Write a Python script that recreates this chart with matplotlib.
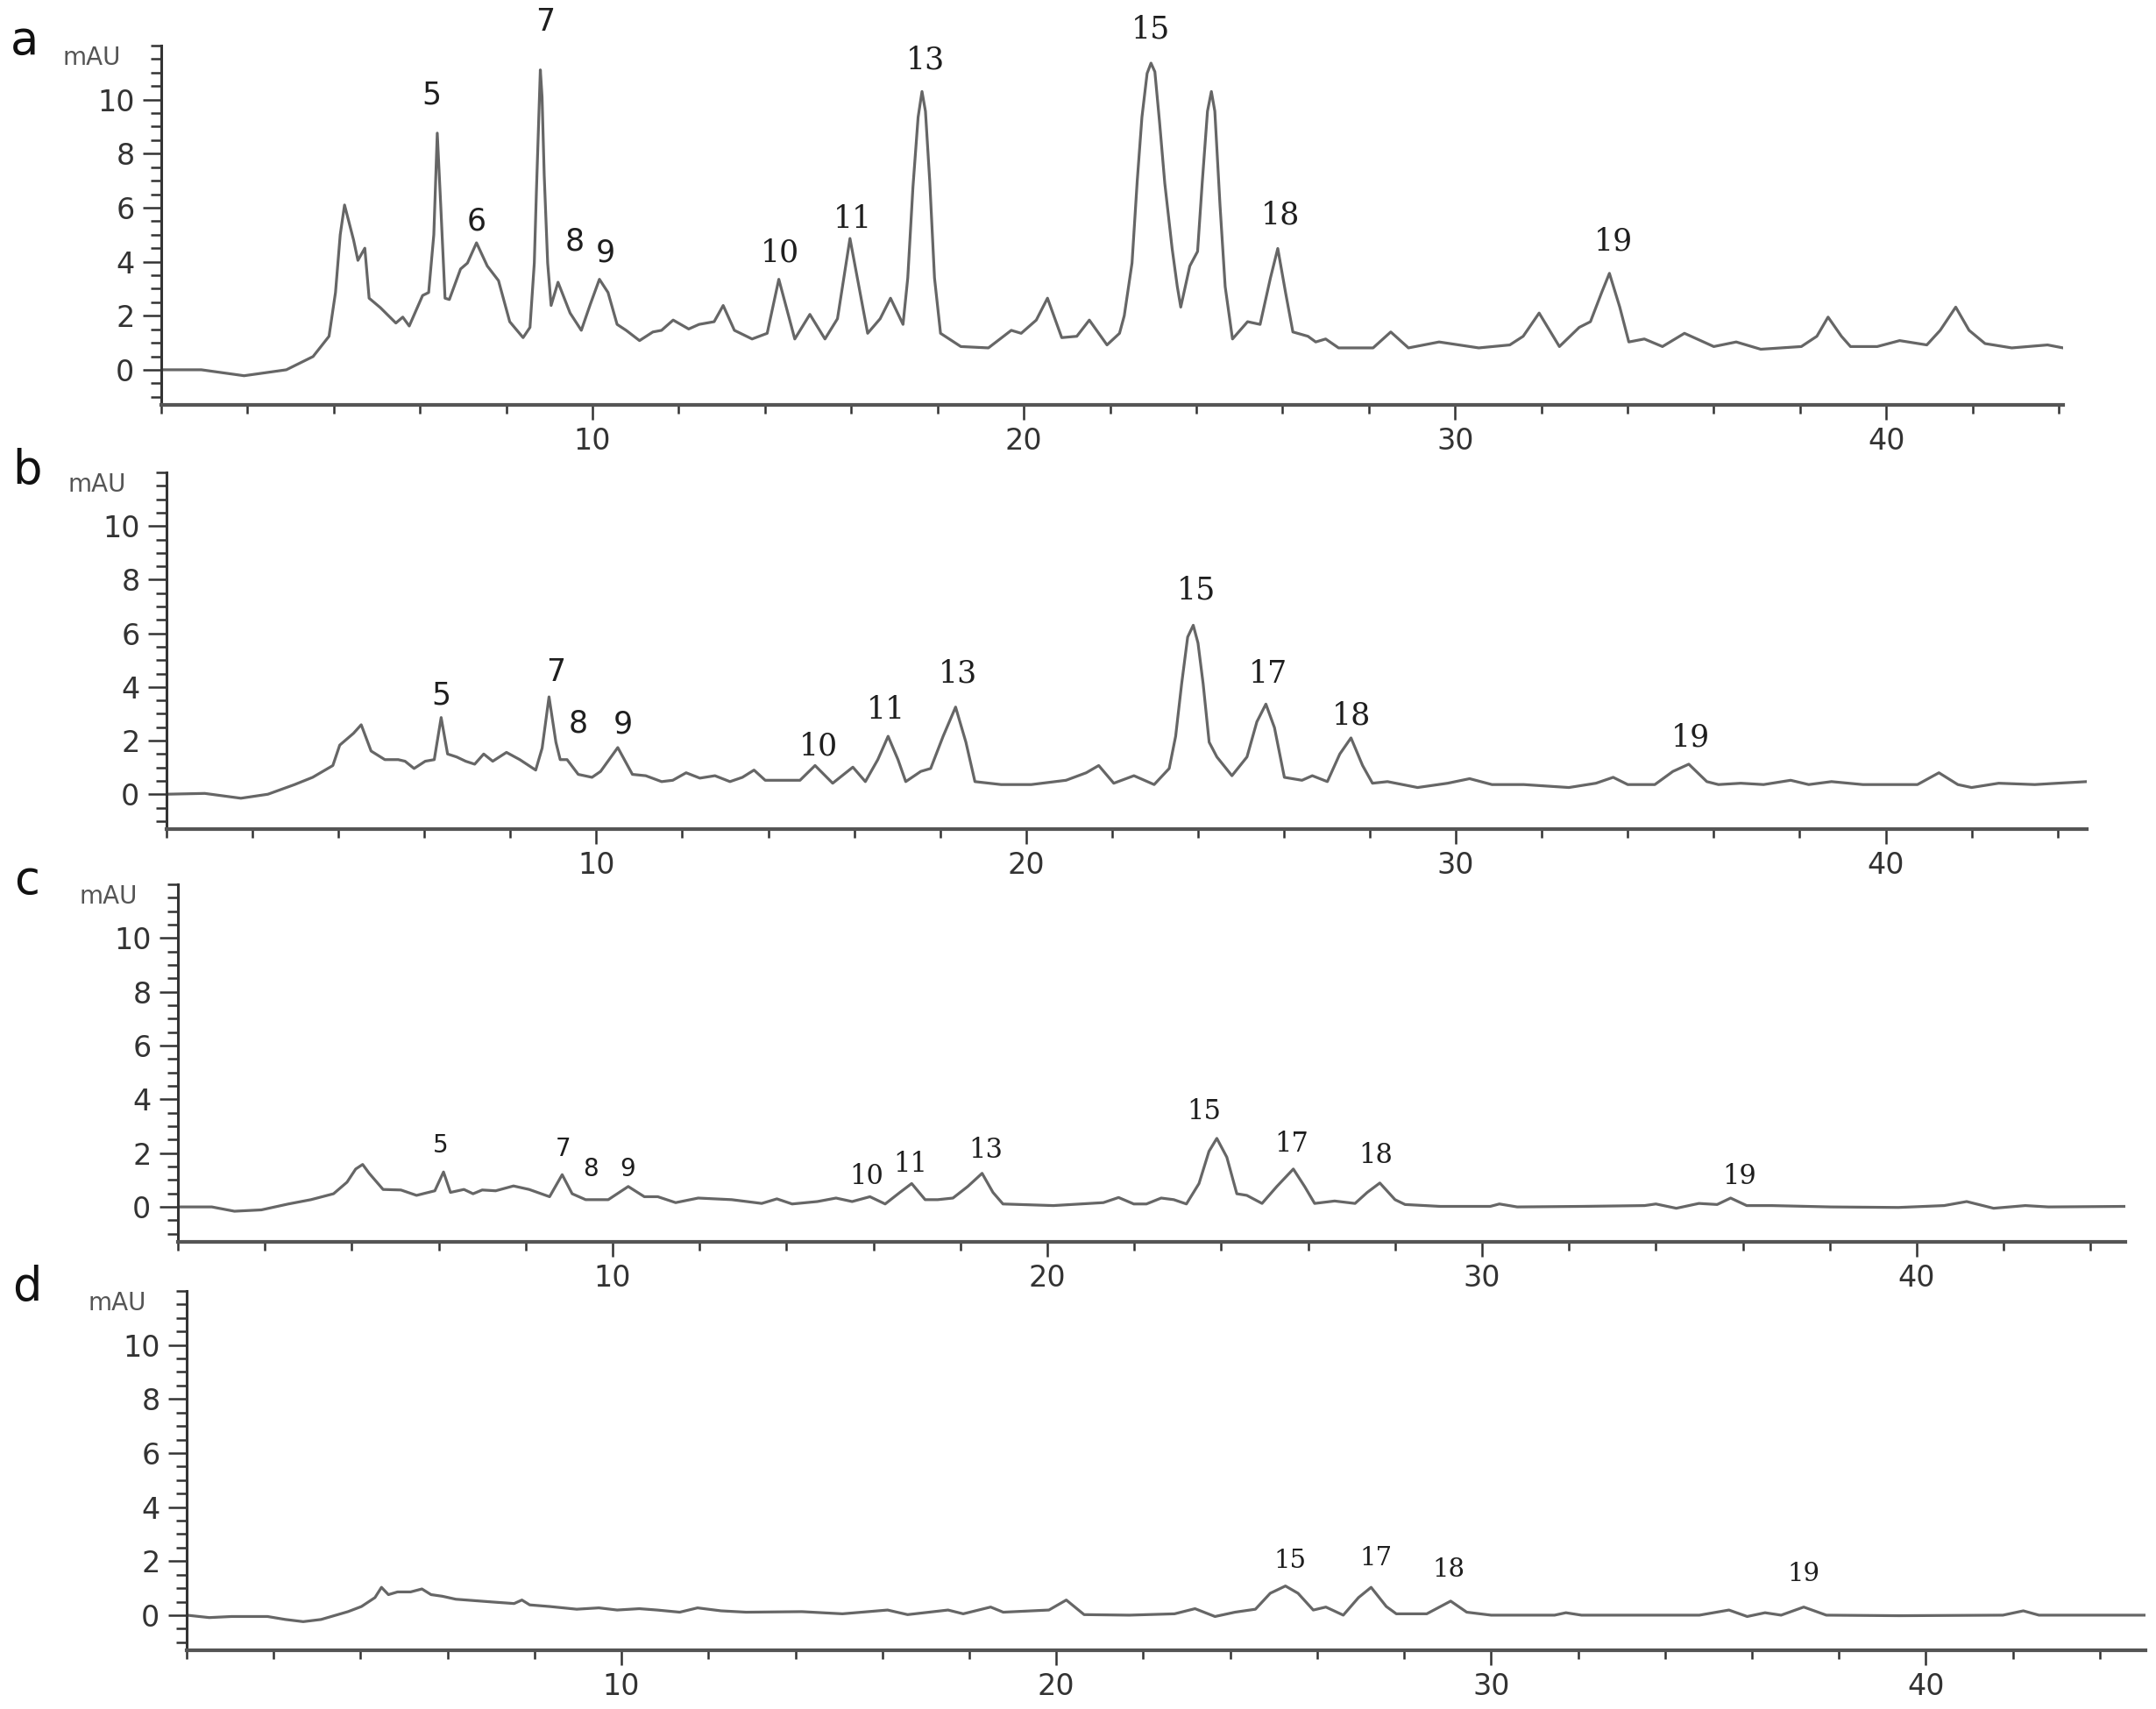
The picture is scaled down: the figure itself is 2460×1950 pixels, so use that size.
import matplotlib.pyplot as plt
from matplotlib.ticker import MultipleLocator

# chromatogram traces: (retention time [min], absorbance [mAU])
trace_a = [
    (0, 0), (0.93, 0), (1.92, -0.22), (2.9, 0), (3.52, 0.49), (3.89, 1.24), (4.04, 2.86), (4.15, 5.0),
    (4.25, 6.1), (4.46, 4.8), (4.56, 4.05), (4.72, 4.5), (4.82, 2.65), (5.08, 2.3), (5.44, 1.73),
    (5.6, 1.95), (5.75, 1.62), (6.06, 2.75), (6.2, 2.86), (6.32, 5.0), (6.4, 8.76), (6.48, 6.1),
    (6.58, 2.65), (6.68, 2.6), (6.94, 3.73), (7.1, 3.95), (7.31, 4.7), (7.56, 3.84), (7.82, 3.3),
    (8.08, 1.78), (8.39, 1.19), (8.55, 1.57), (8.65, 3.95), (8.7, 6.65), (8.76, 9.6), (8.79, 11.1),
    (8.83, 10.1), (8.88, 7.2), (8.96, 3.95), (9.04, 2.38), (9.2, 3.24), (9.48, 2.1), (9.74, 1.46),
    (9.95, 2.43), (10.16, 3.35), (10.36, 2.86), (10.57, 1.68), (10.78, 1.46), (11.09, 1.08),
    (11.4, 1.4), (11.6, 1.46), (11.87, 1.84), (12.23, 1.51), (12.47, 1.68), (12.82, 1.78),
    (13.03, 2.38), (13.29, 1.46), (13.7, 1.14), (14.05, 1.35), (14.32, 3.35), (14.69, 1.14),
    (15.04, 2.05), (15.39, 1.14), (15.68, 1.89), (15.97, 4.86), (16.38, 1.35), (16.67, 1.89),
    (16.91, 2.65), (17.2, 1.68), (17.31, 3.4), (17.43, 6.76), (17.55, 9.35), (17.64, 10.3),
    (17.72, 9.57), (17.82, 6.97), (17.93, 3.4), (18.07, 1.35), (18.54, 0.86), (19.18, 0.81),
    (19.71, 1.46), (19.94, 1.35), (20.29, 1.84), (20.55, 2.65), (20.88, 1.19), (21.23, 1.24),
    (21.52, 1.84), (21.93, 0.92), (22.22, 1.35), (22.33, 2.0), (22.51, 3.95), (22.63, 6.97),
    (22.74, 9.35), (22.86, 10.97), (22.95, 11.35), (23.04, 11.03), (23.15, 9.14), (23.27, 6.9),
    (23.44, 4.49), (23.56, 3.08), (23.64, 2.32), (23.85, 3.84), (24.03, 4.38), (24.14, 6.97),
    (24.26, 9.57), (24.35, 10.3), (24.43, 9.57), (24.55, 6.1), (24.67, 3.08), (24.84, 1.14),
    (25.19, 1.78), (25.48, 1.68), (25.72, 3.4), (25.89, 4.49), (26.07, 2.86), (26.24, 1.4),
    (26.59, 1.24), (26.77, 1.03), (27.0, 1.14), (27.3, 0.81), (28.1, 0.81), (28.51, 1.4),
    (28.92, 0.81), (29.63, 1.03), (30.55, 0.81), (31.27, 0.92), (31.58, 1.24), (31.95, 2.1),
    (32.42, 0.86), (32.88, 1.57), (33.14, 1.78), (33.4, 2.86), (33.58, 3.57), (33.82, 2.32),
    (34.03, 1.03), (34.39, 1.14), (34.81, 0.86), (35.32, 1.35), (36.0, 0.86), (36.52, 1.03),
    (37.09, 0.76), (38.03, 0.86), (38.39, 1.24), (38.65, 1.95), (38.96, 1.24), (39.17, 0.86),
    (39.79, 0.86), (40.31, 1.08), (40.94, 0.92), (41.25, 1.46), (41.61, 2.32), (41.92, 1.46),
    (42.29, 0.97), (42.91, 0.81), (43.74, 0.92), (44.1, 0.81),
]

trace_b = [
    (0, 0), (0.89, 0.03), (1.73, -0.15), (2.36, 0), (2.98, 0.36), (3.4, 0.63), (3.87, 1.07),
    (4.03, 1.83), (4.35, 2.27), (4.53, 2.59), (4.76, 1.61), (5.08, 1.29), (5.39, 1.29), (5.55, 1.23),
    (5.76, 0.96), (6.02, 1.23), (6.23, 1.29), (6.39, 2.86), (6.54, 1.5), (6.75, 1.39), (6.96, 1.23),
    (7.17, 1.12), (7.38, 1.5), (7.59, 1.23), (7.91, 1.56), (8.22, 1.29), (8.59, 0.9), (8.74, 1.72),
    (8.9, 3.63), (9.06, 1.94), (9.16, 1.29), (9.32, 1.29), (9.58, 0.74), (9.9, 0.63), (10.1, 0.85),
    (10.5, 1.74), (10.84, 0.74), (11.15, 0.69), (11.52, 0.47), (11.78, 0.52), (12.09, 0.8),
    (12.41, 0.6), (12.76, 0.69), (13.11, 0.47), (13.4, 0.63), (13.67, 0.9), (13.93, 0.52),
    (14.74, 0.52), (15.09, 1.07), (15.5, 0.41), (15.97, 1.01), (16.26, 0.47), (16.55, 1.29),
    (16.79, 2.16), (17.02, 1.29), (17.2, 0.47), (17.55, 0.85), (17.78, 0.96), (18.07, 2.16),
    (18.36, 3.25), (18.6, 1.94), (18.81, 0.47), (19.42, 0.36), (20.12, 0.36), (20.93, 0.52),
    (21.4, 0.8), (21.69, 1.07), (22.04, 0.41), (22.51, 0.69), (22.98, 0.36), (23.33, 0.96),
    (23.48, 2.16), (23.62, 4.12), (23.76, 5.86), (23.89, 6.3), (24.0, 5.64), (24.12, 4.12),
    (24.26, 1.94), (24.44, 1.39), (24.79, 0.69), (25.14, 1.39), (25.37, 2.7), (25.58, 3.36),
    (25.78, 2.48), (26.01, 0.63), (26.42, 0.52), (26.66, 0.69), (27.01, 0.47), (27.3, 1.5),
    (27.56, 2.1), (27.83, 1.07), (28.06, 0.41), (28.41, 0.47), (29.11, 0.25), (29.81, 0.41),
    (30.32, 0.58), (30.84, 0.36), (31.58, 0.36), (32.63, 0.25), (33.26, 0.41), (33.66, 0.63),
    (34.0, 0.36), (34.63, 0.36), (35.05, 0.85), (35.42, 1.12), (35.84, 0.47), (36.11, 0.36),
    (36.63, 0.41), (37.16, 0.36), (37.79, 0.52), (38.21, 0.36), (38.74, 0.47), (39.47, 0.36),
    (40.74, 0.36), (41.24, 0.8), (41.68, 0.36), (42.0, 0.25), (42.63, 0.41), (43.47, 0.36),
    (44.0, 0.41), (44.68, 0.47),
]

trace_c = [
    (0, 0), (0.78, 0), (1.3, -0.16), (1.92, -0.11), (2.54, 0.11), (3.06, 0.27), (3.58, 0.49),
    (3.89, 0.92), (4.09, 1.41), (4.25, 1.58), (4.4, 1.25), (4.72, 0.65), (5.13, 0.63), (5.49, 0.43),
    (5.91, 0.6), (6.11, 1.3), (6.27, 0.54), (6.58, 0.65), (6.79, 0.49), (7.0, 0.63), (7.31, 0.6),
    (7.72, 0.78), (8.08, 0.65), (8.55, 0.38), (8.84, 1.2), (9.07, 0.49), (9.38, 0.27), (9.9, 0.27),
    (10.36, 0.76), (10.73, 0.38), (11.04, 0.38), (11.45, 0.16), (11.97, 0.33), (12.74, 0.27),
    (13.43, 0.13), (13.78, 0.3), (14.13, 0.11), (14.71, 0.2), (15.14, 0.33), (15.51, 0.2),
    (15.92, 0.38), (16.27, 0.11), (16.61, 0.54), (16.88, 0.87), (17.19, 0.27), (17.48, 0.27),
    (17.83, 0.33), (18.17, 0.76), (18.5, 1.25), (18.75, 0.54), (18.98, 0.11), (20.14, 0.05),
    (21.29, 0.16), (21.64, 0.35), (21.99, 0.11), (22.28, 0.11), (22.62, 0.33), (22.91, 0.27),
    (23.2, 0.11), (23.49, 0.87), (23.72, 2.07), (23.9, 2.55), (24.13, 1.85), (24.36, 0.49),
    (24.59, 0.43), (24.94, 0.13), (25.28, 0.76), (25.66, 1.41), (25.92, 0.76), (26.15, 0.13),
    (26.61, 0.22), (27.08, 0.13), (27.36, 0.54), (27.65, 0.89), (28.0, 0.27), (28.23, 0.09),
    (29.04, 0.02), (30.19, 0.02), (30.4, 0.11), (30.81, 0), (32.28, 0.02), (33.74, 0.05),
    (34.0, 0.11), (34.47, -0.05), (34.99, 0.13), (35.41, 0.09), (35.72, 0.33), (36.09, 0.05),
    (36.66, 0.05), (37.49, 0.02), (38.02, 0), (39.58, -0.02), (40.63, 0.05), (41.15, 0.2),
    (41.77, -0.05), (42.5, 0.05), (43.03, 0), (44.8, 0.02),
]

trace_d = [
    (0, 0), (0.52, -0.09), (1.03, -0.05), (1.86, -0.05), (2.27, -0.16), (2.68, -0.24), (3.09, -0.16),
    (3.71, 0.13), (4.02, 0.32), (4.33, 0.65), (4.48, 1.03), (4.64, 0.76), (4.85, 0.86), (5.15, 0.86),
    (5.41, 0.97), (5.62, 0.76), (5.88, 0.7), (6.19, 0.59), (6.6, 0.54), (7.01, 0.49), (7.53, 0.43),
    (7.71, 0.56), (7.89, 0.38), (8.35, 0.32), (8.97, 0.22), (9.48, 0.27), (9.9, 0.19), (10.41, 0.24),
    (10.82, 0.19), (11.34, 0.11), (11.75, 0.27), (12.29, 0.16), (12.87, 0.11), (14.15, 0.13),
    (15.08, 0.05), (16.12, 0.19), (16.58, 0.02), (17.51, 0.19), (17.86, 0.05), (18.49, 0.3),
    (18.78, 0.11), (19.83, 0.19), (20.23, 0.56), (20.64, 0.02), (21.68, 0), (22.72, 0.05),
    (23.19, 0.24), (23.65, -0.05), (24.11, 0.11), (24.58, 0.22), (24.92, 0.81), (25.27, 1.08),
    (25.56, 0.81), (25.91, 0.19), (26.2, 0.3), (26.6, 0), (26.95, 0.65), (27.24, 1.03),
    (27.59, 0.32), (27.82, 0.05), (28.52, 0.05), (29.07, 0.52), (29.44, 0.11), (30.0, 0),
    (31.46, 0), (31.72, 0.09), (32.08, 0), (34.79, 0), (35.47, 0.19), (35.89, -0.05), (36.3, 0.09),
    (36.67, 0), (37.19, 0.3), (37.71, 0), (39.38, -0.02), (41.77, 0), (42.24, 0.16), (42.6, 0),
    (45.05, 0),
]

# peak numbers: (label, time, height of label centre)
peaks_a = [('5', 6.27, 10.16), ('6', 7.31, 5.5), ('7', 8.91, 12.86), ('8', 9.59, 4.76),
           ('9', 10.31, 4.32), ('10', 14.34, 4.32), ('11', 16.03, 5.57), ('13', 17.72, 11.46),
           ('15', 22.94, 12.6), ('18', 25.95, 5.73), ('19', 33.68, 4.76)]
peaks_b = [('5', 6.39, 3.68), ('7', 9.06, 4.55), ('8', 9.58, 2.65), ('9', 10.63, 2.59),
           ('10', 15.17, 1.78), ('11', 16.75, 3.14), ('13', 18.42, 4.5), ('15', 23.95, 7.6),
           ('17', 25.63, 4.5), ('18', 27.57, 2.92), ('19', 35.47, 2.1)]
peaks_c = [('5', 6.05, 2.3), ('7', 8.86, 2.17), ('8', 9.5, 1.41), ('9', 10.35, 1.41),
           ('10', 15.85, 1.14), ('11', 16.85, 1.58), ('13', 18.58, 2.12), ('15', 23.6, 3.53),
           ('17', 25.62, 2.34), ('18', 27.55, 1.9), ('19', 35.92, 1.14)]
peaks_d = [('15', 25.37, 2.0), ('17', 27.36, 2.11), ('18', 29.02, 1.7), ('19', 37.18, 1.52)]

panel_letters = ['a', 'b', 'c', 'd']
x_ends = [44.1, 44.68, 44.8, 45.05]

W, H = 2460, 1950
# axes boxes in pixels: left, top, right, bottom
boxes = [(184, 52, 2354, 462), (190, 539, 2381, 946), (203, 1009, 2425, 1417), (213, 1473, 2448, 1883)]
letter_pos = [(12, 62), (14, 552), (16, 1020), (14, 1484)]
label_sizes = [(25, 25), (25, 25), (22, 20), (21, 20)]

plt.rcParams['font.family'] = 'DejaVu Sans'

fig = plt.figure(figsize=(24.6, 19.5), dpi=100)

traces = [trace_a, trace_b, trace_c, trace_d]
peaks = [peaks_a, peaks_b, peaks_c, peaks_d]

for i in range(4):
    l, t, r, b = boxes[i]
    ax = fig.add_axes([l / W, 1 - b / H, (r - l) / W, (b - t) / H])

    x = [p[0] for p in traces[i]]
    y = [p[1] for p in traces[i]]
    ax.plot(x, y, color='#666666', lw=2.3, solid_joinstyle='round')

    ax.set_xlim(0, x_ends[i])
    ax.set_ylim(-1.3, 12)

    ax.set_xticks([10, 20, 30, 40])
    ax.xaxis.set_minor_locator(MultipleLocator(2))
    ax.set_yticks([0, 2, 4, 6, 8, 10])
    ax.yaxis.set_minor_locator(MultipleLocator(0.5))

    ax.tick_params(axis='x', which='major', length=12, width=1.8, direction='out',
                   pad=6, labelsize=24, colors='#333333')
    ax.tick_params(axis='x', which='minor', length=7, width=1.8, direction='out', colors='#333333')
    ax.tick_params(axis='y', which='major', length=15, width=1.8, direction='out',
                   pad=7, labelsize=24, colors='#333333')
    ax.tick_params(axis='y', which='minor', length=9, width=1.8, direction='out', colors='#333333')

    for s in ['top', 'right']:
        ax.spines[s].set_visible(False)
    ax.spines['left'].set_linewidth(2.2)
    ax.spines['left'].set_color('#333333')
    ax.spines['bottom'].set_linewidth(3)
    ax.spines['bottom'].set_color('#555555')

    # y unit
    ax.annotate('mAU', xy=(0, 1), xycoords='axes fraction', xytext=(-46, -22),
                textcoords='offset pixels', ha='right', va='baseline',
                fontsize=20, color='#555555')

    # peak numbers
    serif_size, sans_size = label_sizes[i]
    for lab, pt, py in peaks[i]:
        if len(lab) == 1:
            ax.text(pt, py, lab, ha='center', va='center', fontsize=sans_size,
                    family='DejaVu Sans', color='#1e1e1e')
        else:
            ax.text(pt, py, lab, ha='center', va='center', fontsize=serif_size,
                    family='DejaVu Serif', color='#1e1e1e')

    # panel letter
    lx, ly = letter_pos[i]
    fig.text(lx / W, 1 - ly / H, panel_letters[i], ha='left', va='baseline',
             fontsize=38, family='DejaVu Sans', color='#111111')

fig.savefig('out.png', dpi=100)
